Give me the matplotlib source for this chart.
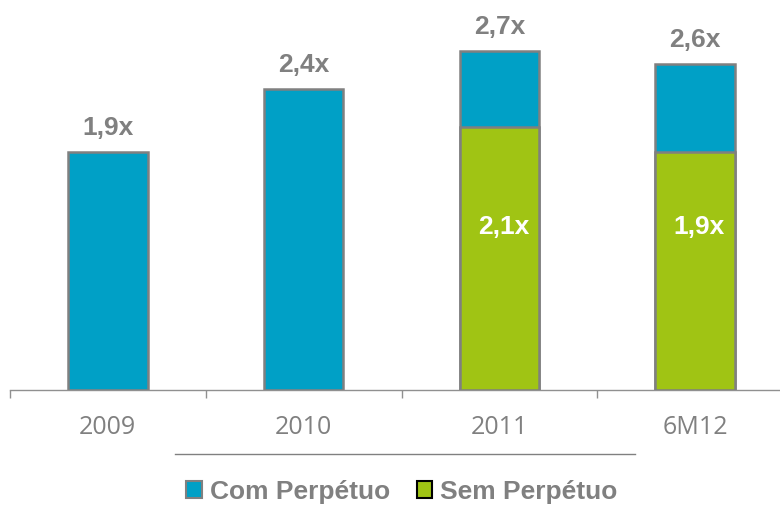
import matplotlib
matplotlib.use('Agg')
import matplotlib.pyplot as plt
from matplotlib.patches import Patch
from matplotlib.lines import Line2D
import numpy as np

# data
periods = ['2009', '2010', '2011', '6M12']
com_perpetuo = [1.9, 2.4, 2.7, 2.6]
sem_perpetuo = [None, None, 2.1, 1.9]
top_labels = ['1,9x', '2,4x', '2,7x', '2,6x']
inner_labels = [None, None, '2,1x', '1,9x']

blue = '#00A0C6'
green = '#A0C414'
edge = '#808080'
grey_txt = '#808080'

plt.rcParams['font.family'] = ['Liberation Sans', 'DejaVu Sans']

fig = plt.figure(figsize=(7.8, 5.07), dpi=100)
# axis line runs off the right edge like the original
ax = fig.add_axes([10 / 780, 117 / 507, 783 / 780, 3.1 * 125.4 / 507])

x = np.arange(len(periods))
w = 0.405

ax.bar(x, com_perpetuo, width=w, color=blue, edgecolor=edge, linewidth=1.8, zorder=2)
for i, v in enumerate(sem_perpetuo):
    if v is not None:
        ax.bar(x[i], v, width=w, color=green, edgecolor=edge, linewidth=1.8, zorder=3)
        ax.text(x[i] + 0.02, 1.3, inner_labels[i], ha='center', va='center',
                color='white', fontsize=19, fontweight='bold', zorder=4)

for i, v in enumerate(com_perpetuo):
    ax.annotate(top_labels[i], (x[i], v), xytext=(0, 24 / 1.389), textcoords='offset points',
                ha='center', va='center', color=grey_txt, fontsize=19, fontweight='bold')

ax.set_xlim(-0.5, len(periods) - 0.5)
ax.set_ylim(0, 3.1)
ax.set_yticks([])
for s in ['top', 'right', 'left']:
    ax.spines[s].set_visible(False)
ax.spines['bottom'].set_color('#909090')
ax.spines['bottom'].set_linewidth(1.0)

ax.set_xticks(x)
ax.set_xticklabels(periods, family='Open Sans', fontsize=18, color=grey_txt)
ax.tick_params(axis='x', which='major', length=0, pad=18)
ax.set_xticks(np.arange(len(periods) + 1) - 0.5, minor=True)
ax.tick_params(axis='x', which='minor', length=6, color='#909090', width=1.0)

# thin rule under the category labels
fig.add_artist(Line2D([175 / 780, 635 / 780], [1 - 454 / 507, 1 - 454 / 507],
                      color='#808080', linewidth=1.0))

handles = [Patch(facecolor=blue, edgecolor=edge, linewidth=1.5),
           Patch(facecolor=green, edgecolor='black', linewidth=1.5)]
leg = fig.legend(handles, ['Com Perpétuo', 'Sem Perpétuo'], loc='center',
                 bbox_to_anchor=(402 / 780, 1 - 492 / 507), ncol=2, frameon=False,
                 handlelength=0.6, handleheight=0.6, handletextpad=0.3,
                 columnspacing=1.0, borderaxespad=0,
                 prop={'size': 19, 'weight': 'bold'})
for t in leg.get_texts():
    t.set_color(grey_txt)

fig.savefig('out.png', dpi=100)
